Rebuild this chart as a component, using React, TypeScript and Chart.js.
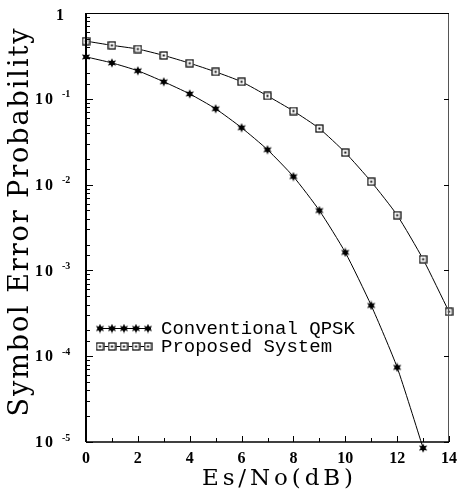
import React, { useEffect, useRef } from "react";
import { Chart, registerables } from "chart.js";

Chart.register(...registerables);

// ---- data ----
const esNoDb = [0, 1, 2, 3, 4, 5, 6, 7, 8, 9, 10, 11, 12, 13, 14];
const conventionalQPSK = [0.308, 0.262, 0.212, 0.158, 0.114, 0.0765, 0.046, 0.0255, 0.0124, 0.00499, 0.00162, 0.00039, 0.000074, 0.0000085];
const proposedSystem = [0.47, 0.42, 0.38, 0.32, 0.26, 0.206, 0.158, 0.108, 0.072, 0.045, 0.0236, 0.0108, 0.0044, 0.00135, 0.00033];
const yDecades = [1, 0.1, 0.01, 0.001, 0.0001, 0.00001];
const yDecadeMantissa = ["1", "10", "10", "10", "10", "10"];
const yDecadeExponent = ["", "-1", "-2", "-3", "-4", "-5"];
const seriesNames = ["Conventional QPSK", "Proposed System"];
const xTitle = "Es/No(dB)";
const yTitle = "Symbol Error Probability";

function makeStar(): HTMLCanvasElement {
  const c = document.createElement("canvas");
  c.width = 10;
  c.height = 10;
  const g = c.getContext("2d")!;
  g.fillStyle = "#000";
  g.beginPath();
  const cx = 5, cy = 5;
  for (let i = 0; i < 12; i++) {
    const r = i % 2 === 0 ? 4.8 : 2.4;
    const a = -Math.PI / 2 + (i * Math.PI) / 6;
    const px = cx + r * Math.cos(a);
    const py = cy + r * Math.sin(a);
    if (i === 0) g.moveTo(px, py);
    else g.lineTo(px, py);
  }
  g.closePath();
  g.fill();
  return c;
}

function makeSquare(): HTMLCanvasElement {
  const c = document.createElement("canvas");
  c.width = 9;
  c.height = 9;
  const g = c.getContext("2d")!;
  g.fillStyle = "#fff";
  g.fillRect(0.5, 0.5, 8, 8);
  g.strokeStyle = "#000";
  g.lineWidth = 1.2;
  g.strokeRect(1, 1, 7, 7);
  g.fillStyle = "#000";
  g.fillRect(3.5, 3.5, 2, 2);
  return c;
}

const isDecade = (v: number) => Math.abs(Math.log10(v) - Math.round(Math.log10(v))) < 1e-6;

function spacedText(ctx: CanvasRenderingContext2D, text: string, targetWidth: number) {
  (ctx as any).letterSpacing = "0px";
  const w = ctx.measureText(text).width;
  const sp = Math.max(0, (targetWidth - w) / (text.length - 1));
  (ctx as any).letterSpacing = sp.toFixed(2) + "px";
  return w + sp * (text.length - 1);
}

export default function App() {
  const ref = useRef<HTMLCanvasElement>(null);
  useEffect(() => {
    const star = makeStar();
    const square = makeSquare();

    const frame = {
      id: "frame",
      afterDatasetsDraw(chart: any) {
        const { ctx, chartArea: a, scales } = chart;
        const xs = scales.x;
        const ys = scales.y;
        ctx.save();
        ctx.strokeStyle = "#000";
        ctx.lineWidth = 1;
        ctx.beginPath();
        ctx.moveTo(a.left, a.top + 0.5);
        ctx.lineTo(a.right, a.top + 0.5);
        ctx.stroke();
        ctx.strokeStyle = "#555";
        ctx.beginPath();
        ctx.moveTo(a.right - 0.5, a.top);
        ctx.lineTo(a.right - 0.5, a.bottom);
        ctx.stroke();
        ctx.strokeStyle = "#000";
        ctx.lineWidth = 2;
        ctx.beginPath();
        ctx.moveTo(a.left, a.top);
        ctx.lineTo(a.left, a.bottom);
        ctx.stroke();
        ctx.lineWidth = 1.5;
        ctx.beginPath();
        ctx.moveTo(a.left, a.bottom);
        ctx.lineTo(a.right, a.bottom);
        ctx.stroke();
        ctx.lineWidth = 1;
        ys.ticks.forEach((t: any) => {
          const py = Math.round(ys.getPixelForValue(t.value)) + 0.5;
          const len = isDecade(t.value) ? 7 : 4;
          ctx.beginPath();
          ctx.moveTo(a.left, py);
          ctx.lineTo(a.left + len, py);
          ctx.stroke();
          if (isDecade(t.value)) {
            ctx.beginPath();
            ctx.moveTo(a.right, py);
            ctx.lineTo(a.right - 5, py);
            ctx.stroke();
          }
        });
        xs.ticks.forEach((t: any) => {
          const px = Math.round(xs.getPixelForValue(t.value)) + 0.5;
          const len = t.value % 2 === 0 ? 6 : 4;
          ctx.beginPath();
          ctx.moveTo(px, a.bottom);
          ctx.lineTo(px, a.bottom - len);
          ctx.stroke();
        });
        // y decade labels with raised exponent
        ctx.fillStyle = "#000";
        ctx.textBaseline = "middle";
        yDecades.forEach((d, i) => {
          const py = ys.getPixelForValue(d);
          ctx.textAlign = "right";
          ctx.font = "bold 16px 'Liberation Serif'";
          (ctx as any).letterSpacing = "0px";
          if (yDecadeExponent[i] === "") {
            ctx.fillText(yDecadeMantissa[i], a.left - 22, py + 3);
          } else {
            (ctx as any).letterSpacing = "2px";
            ctx.fillText(yDecadeMantissa[i], a.left - 31, py + 1);
            (ctx as any).letterSpacing = "0px";
            ctx.textAlign = "left";
            ctx.font = "bold 10px 'Liberation Serif'";
            ctx.fillText(yDecadeExponent[i], a.left - 24, py - 4);
          }
        });
        ctx.restore();
      },
      afterDraw(chart: any) {
        const { ctx } = chart;
        ctx.save();
        // legend
        const rows = [
          { y: 328, img: star, name: seriesNames[0] },
          { y: 346, img: square, name: seriesNames[1] },
        ];
        ctx.font = "19px 'Liberation Mono'";
        ctx.textBaseline = "middle";
        ctx.textAlign = "left";
        ctx.fillStyle = "#000";
        rows.forEach((r) => {
          ctx.strokeStyle = "#000";
          ctx.lineWidth = 1;
          ctx.beginPath();
          ctx.moveTo(98, r.y + 0.5);
          ctx.lineTo(151, r.y + 0.5);
          ctx.stroke();
          for (let i = 0; i < 5; i++) {
            const mx = 100 + i * 12;
            ctx.drawImage(r.img, mx - r.img.width / 2, r.y - r.img.height / 2 + 0.5);
          }
          ctx.fillText(r.name, 161, r.y + 1);
        });
        // axis titles
        ctx.textBaseline = "alphabetic";
        ctx.textAlign = "left";
        ctx.font = "23px 'DejaVu Serif'";
        const xw = spacedText(ctx, xTitle, 151);
        ctx.fillText(xTitle, 277.5 - xw / 2, 485);
        ctx.save();
        ctx.translate(28, 222.5);
        ctx.rotate(-Math.PI / 2);
        ctx.font = "27px 'DejaVu Serif'";
        const yw = spacedText(ctx, yTitle, 388);
        ctx.fillText(yTitle, -yw / 2, 0);
        ctx.restore();
        (ctx as any).letterSpacing = "0px";
        ctx.restore();
      },
    };

    const chart = new Chart(ref.current!, {
      type: "line",
      data: {
        datasets: [
          {
            label: seriesNames[0],
            data: conventionalQPSK.map((v, i) => ({ x: esNoDb[i], y: v })),
            borderColor: "#000",
            borderWidth: 1,
            pointStyle: star as any,
            pointRadius: 5,
            pointBorderWidth: 8,
            tension: 0.2,
            clip: false as any,
          },
          {
            label: seriesNames[1],
            data: proposedSystem.map((v, i) => ({ x: esNoDb[i], y: v })),
            borderColor: "#000",
            borderWidth: 1,
            pointStyle: square as any,
            pointRadius: 5,
            pointBorderWidth: 8,
            tension: 0.2,
            clip: false as any,
          },
        ],
      },
      plugins: [frame],
      options: {
        animation: false,
        responsive: false,
        devicePixelRatio: 1,
        layout: { padding: { top: 13, right: 10, left: 0, bottom: 0 } },
        plugins: { legend: { display: false }, tooltip: { enabled: false } },
        scales: {
          x: {
            type: "linear",
            min: 0,
            max: 14,
            grid: { display: false, drawTicks: false },
            border: { display: false },
            ticks: {
              stepSize: 1,
              autoSkip: false,
              maxRotation: 0,
              padding: 7,
              color: "#000",
              font: { family: "'Liberation Serif'", size: 16, weight: "bold" },
              callback: (v: any) => (Number(v) % 2 === 0 ? String(v) : ""),
            },
            afterFit: (s: any) => {
              s.height = 51;
            },
          },
          y: {
            type: "logarithmic",
            min: 0.00001,
            max: 1,
            grid: { display: false, drawTicks: false },
            border: { display: false },
            ticks: { autoSkip: false, display: false },
            afterFit: (s: any) => {
              s.width = 86;
            },
          },
        },
      },
    });
    return () => chart.destroy();
  }, []);
  return (
    <div style={{ position: "absolute", left: 0, top: 0, width: 464, height: 493, background: "#fff" }}>
      <canvas ref={ref} width={464} height={493} />
    </div>
  );
}
